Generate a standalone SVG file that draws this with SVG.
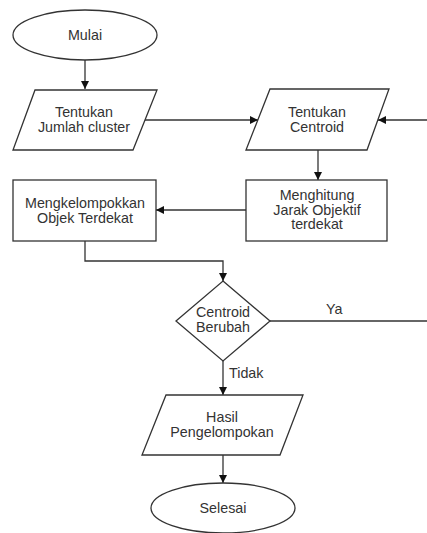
<svg xmlns="http://www.w3.org/2000/svg" width="427" height="533" viewBox="0 0 427 533">
<defs>
<style>
.s{fill:#ffffff;stroke:#333333;stroke-width:1.3}
.t{font-family:"Liberation Sans",Arial,sans-serif;font-size:14.3px;fill:#333333;text-anchor:middle}
.l{font-family:"Liberation Sans",Arial,sans-serif;font-size:14.3px;fill:#333333}
.c{fill:none;stroke:#333333;stroke-width:1.3}
</style>
<marker id="ah" viewBox="0 0 10 10" refX="10" refY="5" markerWidth="8" markerHeight="8" markerUnits="userSpaceOnUse" orient="auto">
<path d="M0,0 L10,5 L0,10 Z" fill="#111111"/>
</marker>
</defs>
<rect width="427" height="533" fill="#ffffff"/>
<g id="connectors">
<path class="c" d="M85,60 L85,89" marker-end="url(#ah)"/>
<path class="c" d="M145,120 L258,120" marker-end="url(#ah)"/>
<path class="c" d="M440,321 L440,120 L378,120" marker-end="url(#ah)"/>
<path class="c" d="M318,150 L318,180" marker-end="url(#ah)"/>
<path class="c" d="M246,210 L156,210" marker-end="url(#ah)"/>
<path class="c" d="M85,241 L85,261 L223,261 L223,281" marker-end="url(#ah)"/>
<path class="c" d="M270,321 L440,321"/>
<path class="c" d="M223,361 L223,395" marker-end="url(#ah)"/>
<path class="c" d="M223,455 L223,483" marker-end="url(#ah)"/>
<text class="l" x="326" y="314">Ya</text>
<text class="l" x="229" y="378">Tidak</text>
</g>
<g id="mulai">
<ellipse class="s" cx="85" cy="35" rx="72" ry="25"/>
<text class="t" x="85" y="40">Mulai</text>
</g>
<g id="jumlah">
<polygon class="s" points="35,90 157,90 133,150 13,150"/>
<text class="t" x="84" y="117">Tentukan</text>
<text class="t" x="84" y="132">Jumlah cluster</text>
</g>
<g id="centroid">
<polygon class="s" points="270,89 389,89 367,150 246,150"/>
<text class="t" x="317" y="117">Tentukan</text>
<text class="t" x="317" y="132">Centroid</text>
</g>
<g id="menghitung">
<rect class="s" x="246" y="180" width="141" height="61"/>
<text class="t" x="317" y="200">Menghitung</text>
<text class="t" x="317" y="214.5">Jarak Objektif</text>
<text class="t" x="317" y="229">terdekat</text>
</g>
<g id="mengkelompokkan">
<rect class="s" x="13" y="180" width="143" height="61"/>
<text class="t" x="85" y="208">Mengkelompokkan</text>
<text class="t" x="85" y="223">Objek Terdekat</text>
</g>
<g id="decision">
<polygon class="s" points="223,281 270,321 223,361 176,321"/>
<text class="t" x="223" y="317">Centroid</text>
<text class="t" x="223" y="332">Berubah</text>
</g>
<g id="hasil">
<polygon class="s" points="166,395 303,395 280,455 142,455"/>
<text class="t" x="222" y="422">Hasil</text>
<text class="t" x="222" y="437">Pengelompokan</text>
</g>
<g id="selesai">
<ellipse class="s" cx="223" cy="508" rx="72" ry="25"/>
<text class="t" x="223" y="513">Selesai</text>
</g>
</svg>
